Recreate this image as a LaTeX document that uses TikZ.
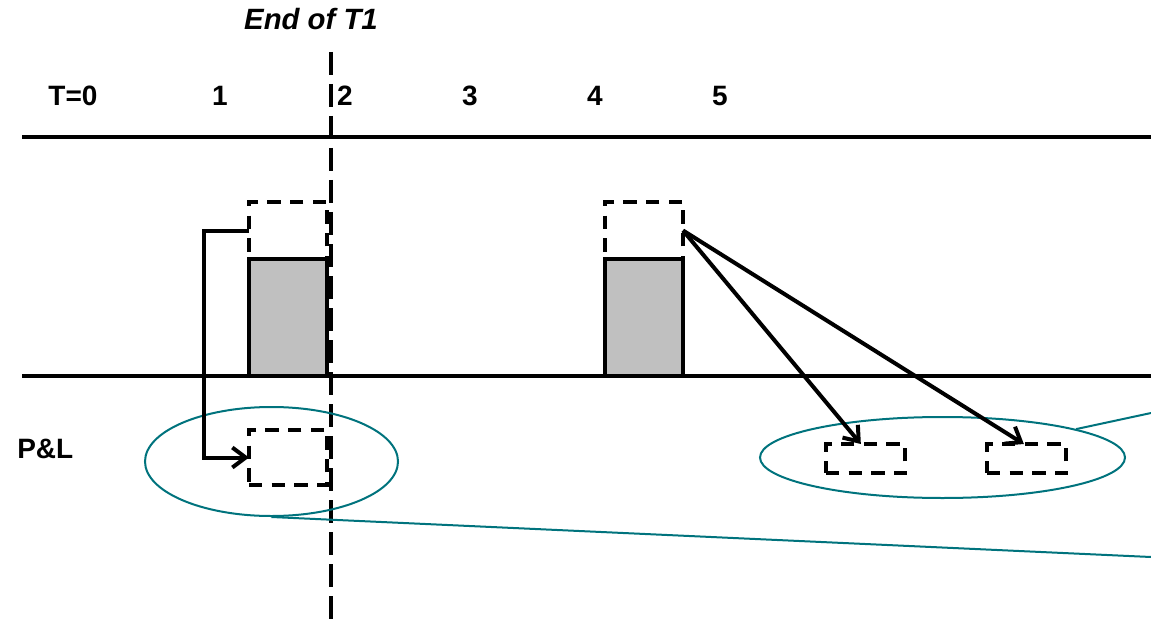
\documentclass[tikz,border=0pt]{standalone}
\usepackage{fontspec}
\setmainfont{Liberation Sans}
\usetikzlibrary{shapes,arrows.meta,positioning}
\definecolor{plteal}{RGB}{0,115,125}
\definecolor{bargray}{RGB}{192,192,192}
\tikzset{
	lbl/.style={font=\bfseries\fontsize{21}{25}\selectfont, inner sep=0pt, anchor=base},
	bar/.style={draw, line width=2.8pt, fill=bargray, inner sep=0pt, outer sep=0pt,
		minimum width=58.5pt, minimum height=87.75pt, anchor=south west},
	dbox/.style={draw, dash pattern=on 10pt off 7pt, line width=3pt,
		inner sep=0pt, outer sep=0pt, anchor=south west},
	plring/.style={draw=plteal, ellipse, line width=1.5pt, inner sep=0pt},
	arr/.style={line width=3pt, -{Straight Barb[length=10pt,width=15pt]}}
}
\begin{document}
\begin{tikzpicture}[x=0.75pt,y=-0.75pt]
	\useasboundingbox (0,0) rectangle (1151,620);
	% time axis labels
	\node[lbl] (t0) at (73,106) {T=0};
	\foreach \n in {1,...,5}
		\node[lbl] (t\n) at ({220+125*(\n-1)},106) {\n};
	\node[lbl, font=\bfseries\itshape\fontsize{22}{26}\selectfont] (endt1) at (311,30) {End of T1};
	\node[lbl, anchor=base west] (pl) at (17,458) {P\&L};
	
	% horizontal lines
	\coordinate (topl) at (22,137);
	\coordinate (topr) at (1151,137);
	\coordinate (botl) at (22,376);
	\coordinate (botr) at (1151,376);
	\draw[line width=3.2pt] (topl) -- (topr);
	\draw[line width=3.2pt] (botl) -- (botr);
	
	% dashed boxes
	\node[dbox,
	minimum width=58.5pt,
	minimum height=42.75pt] (up1) at (249,259) {};
	\node[dbox,
	minimum width=58.5pt,
	minimum height=42.75pt] (up2) at (605,259) {};
	\node[dbox,
	minimum width=58.5pt,
	minimum height=41.25pt] (pl1) at (249,485) {};
	\node[dbox,
	minimum width=59.25pt,
	minimum height=21.75pt] (pl2) at (826,473) {};
	\node[dbox,
	minimum width=59.25pt,
	minimum height=21.75pt] (pl3) at (987,473) {};
	
	% gray bars
	\node[bar] (bar1) at (249,376) {};
	\node[bar] (bar2) at (605,376) {};
	\draw[line width=3pt, dash pattern=on 10pt off 7pt] (bar1.north west) -- (bar1.north east);
	\draw[line width=3pt, dash pattern=on 10pt off 7pt] (bar2.north west) -- (bar2.north east);
	
	% end of T1
	\coordinate (cuttop) at (331,52);
	\coordinate (cutbot) at (331,620);
	\draw[line width=3pt, dash pattern=on 17pt off 7pt] (cuttop) -- (cutbot);
	
	% P&L ellipses
	\node[plring,
	minimum width=189.75pt,
	minimum height=81.75pt] (ring1) at (271.5,461.5) {};
	\node[plring,
	minimum width=273.75pt,
	minimum height=60.75pt] (ring2) at (942.5,457.5) {};
	\coordinate (zoomlo) at (1151,557);
	\coordinate (zoomhi) at (1151,413);
	\draw[plteal, line width=1.5pt] (ring1.south) -- (zoomlo);
	\draw[plteal, line width=1.5pt] (ring2.12) -- (zoomhi);
	
	% Arrows
	\draw[arr] (up1.west) -- ++(-45,0) |- (pl1.west);
	\draw[arr] (up2.east) -- ([xshift=-3.5pt]pl2.north);
	\draw[arr] (up2.east) -- ([xshift=-2pt]pl3.north);
\end{tikzpicture}
\end{document}
